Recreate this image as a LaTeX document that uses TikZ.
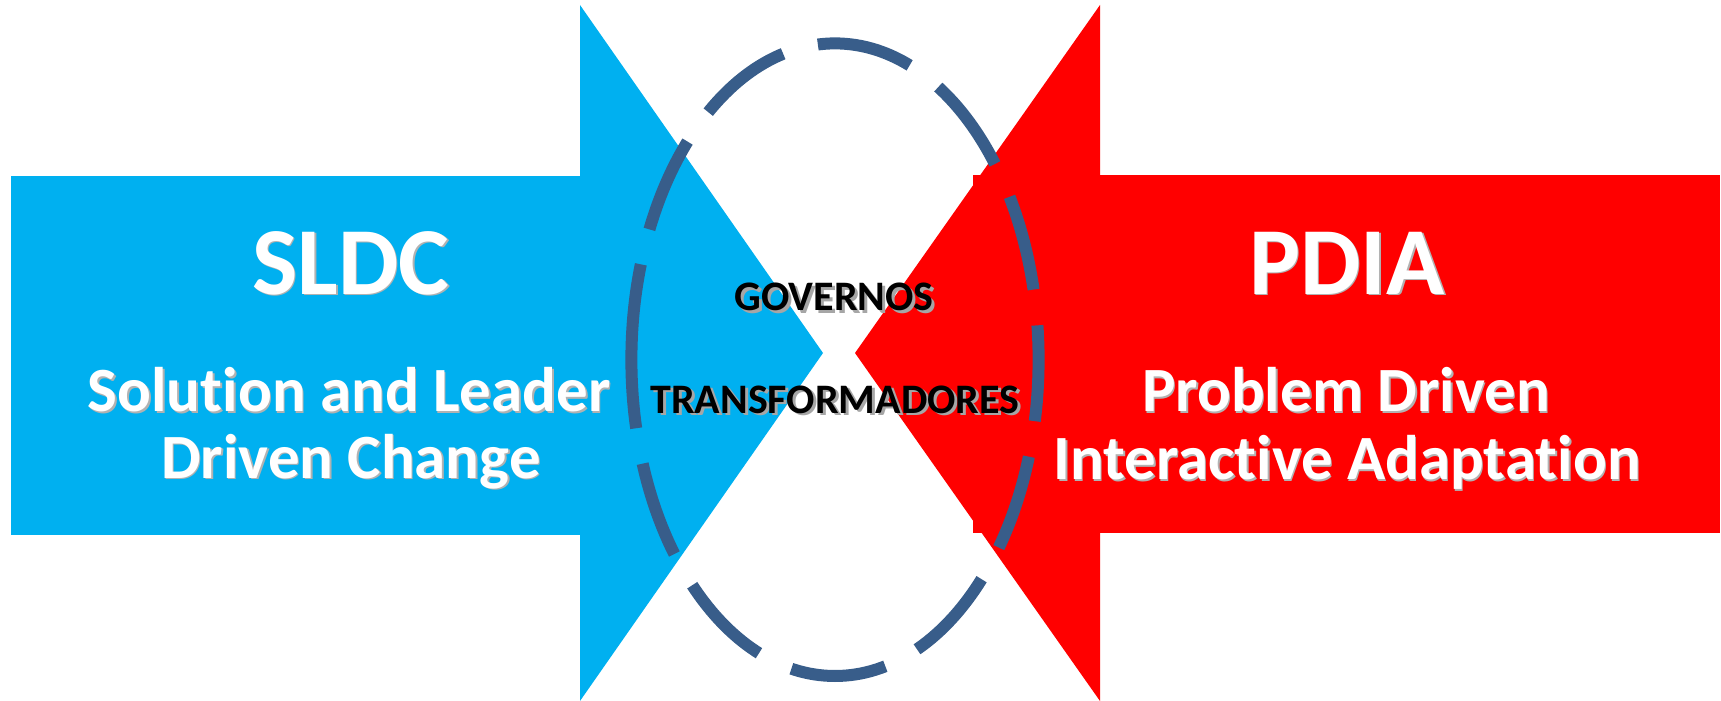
\documentclass[tikz,border=0pt]{standalone}
\usepackage{fontspec}
\setmainfont{Carlito}[RawFeature={-liga;-clig;-dlig}]
\usepackage{tikz}
\usetikzlibrary{calc}
\definecolor{vividcerulean}{rgb}{0.0, 0.69, 0.94}
\definecolor{candyred}{rgb}{1.0, 0.0, 0.0}
\definecolor{queenblue}{rgb}{0.22, 0.365, 0.54}
\newcommand{\shadowed}[3]{\rlap{\kern#1\raisebox{-#1}{\color{#2}#3}}#3}

\begin{document}
\begin{tikzpicture}[x=0.5pt,y=-0.5pt,
		bigtitle/.style={anchor=base, text=white, font=\fontsize{48}{48}\selectfont\bfseries},
		subline/.style={anchor=base, text=white, font=\fontsize{31.5}{31.5}\selectfont\bfseries},
		centerword/.style={anchor=base, text=black, font=\fontsize{21}{21}\selectfont\bfseries}]
								\def\ovalrx{203.6}
								\def\ovalry{316.3}
								\useasboundingbox (0,0) rectangle (1721,701);

								% left arrow
								\coordinate (b) at (823,353);
								\fill[vividcerulean] (11,176) rectangle (580,535);
								\fill[vividcerulean] (580,5) -- (b) -- (580,701) -- cycle;

								% right arrow
								\coordinate (r) at (855,353);
								\fill[candyred] (973,175) rectangle (1720,533);
								\fill[candyred] (1100,5) -- (r) -- (1100,701) -- cycle;

								% dashed oval
								\coordinate (O) at (835,359.7);
								\draw[queenblue, line width=6pt, dash pattern=on 48pt off 18pt]
									($(O)+(-\ovalrx,0)$) arc[start angle=180, end angle=540, x radius=\ovalrx, y radius=\ovalry];

								\node[bigtitle] (sldc) at (351,294) {\shadowed{0.8pt}{black!30}{SLDC}};
								\node[subline] (sldc1) at (349,411.6) {\shadowed{0.8pt}{black!30}{Solution and Leader}};
								\node[subline] (sldc2) at (351,478) {\shadowed{0.8pt}{black!30}{Driven Change}};

								\node[bigtitle] (pdia) at (1347,294) {\shadowed{0.8pt}{black!30}{PDIA}};
								\node[subline] (pdia1) at (1346,411.6) {\shadowed{0.8pt}{black!30}{Problem Driven}};
								\node[subline] (pdia2) at (1347,479.6) {\shadowed{0.8pt}{black!30}{Interactive Adaptation}};

								\node[centerword] (gov) at (834,310.6) {\shadowed{1.5pt}{black!35}{GOVERNOS}};
								\node[centerword] (trans) at (835,413) {\shadowed{1.5pt}{black!35}{TRANSFORMADORES}};
							\end{tikzpicture}
\end{document}
